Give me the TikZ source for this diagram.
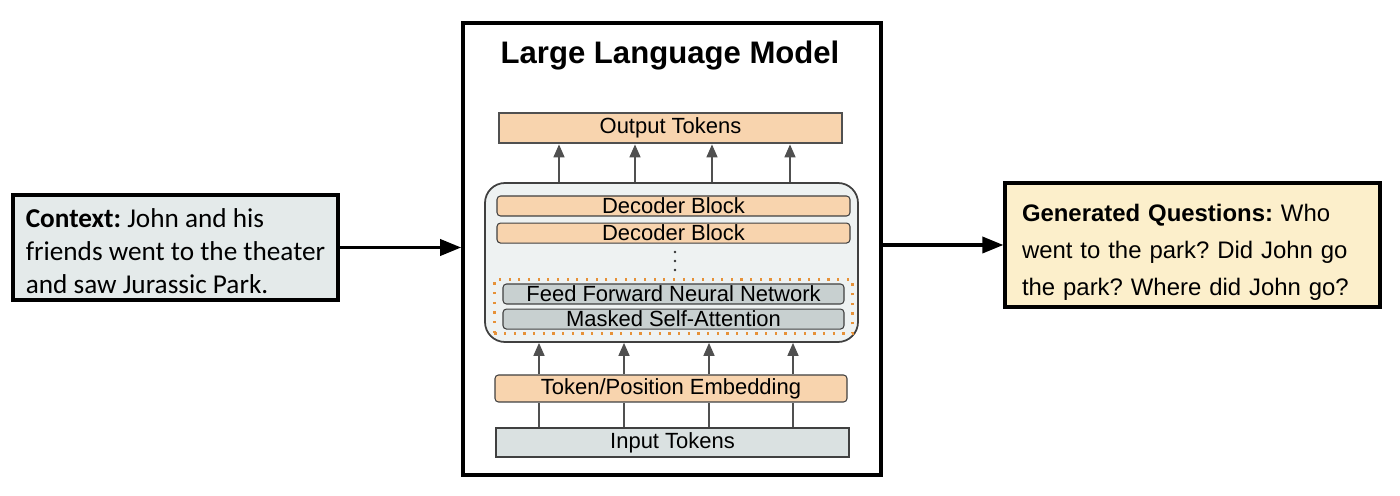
\documentclass[tikz,border=0pt]{standalone}
\usepackage{fontspec}
\setmainfont{Liberation Sans}
\newfontfamily\calibri{Carlito}
\usepackage[]{xcolor}
\usetikzlibrary{positioning,arrows.meta,fit}
\frenchspacing
\definecolor{ctxfill}{HTML}{E4EAEA}
\definecolor{qfill}{HTML}{FCEFCB}
\definecolor{peach}{HTML}{F8D4AE}
\definecolor{layergray}{HTML}{C8D0D0}
\definecolor{inputfill}{HTML}{DAE1E1}
\definecolor{stackfill}{HTML}{EEF2F2}
\definecolor{arrowgray}{HTML}{505050}
\definecolor{dotorange}{HTML}{E69138}
\tikzset{
  mainarrow/.style={line width=2pt,-{Triangle[length=0.42cm,width=0.32cm]}},
  tokarrow/.style={line width=0.9pt,arrowgray,-{Triangle[length=0.26cm,width=0.22cm]}},
  tokline/.style={line width=0.9pt,arrowgray},
  textbox/.style={draw=black,line width=1.8pt,align=left,inner ysep=0pt},
  block/.style={draw=black!75,line width=0.6pt,rounded corners=2pt,fill=peach,
    minimum width=7.06cm,minimum height=0.4cm,inner sep=0pt,
    font=\fontsize{12.5}{14}\selectfont},
  layer/.style={block,fill=layergray,minimum width=6.82cm},
  tokbox/.style={draw=arrowgray,line width=1.6pt,minimum width=6.86cm,minimum height=0.6cm,
    inner sep=0pt,font=\fontsize{12.5}{14}\selectfont}
}
\begin{document}
\begin{tikzpicture}
  \useasboundingbox (0,0) rectangle (28,9.9);
  % model frame and title
  \node[draw=black,line width=2pt,minimum width=8.36cm,minimum height=9.04cm] (llm) at (13.44,4.92) {};
  \node[font=\bfseries\fontsize{17.7}{21}\selectfont] (title) at (13.4,8.79) {Large Language Model};
  \node[tokbox,fill=peach] (outtok) at (13.41,7.34) {Output Tokens};
  % decoder stack
  \node[draw=black!75,line width=1pt,rounded corners=0.4cm,fill=stackfill,
    minimum width=7.46cm,minimum height=3.18cm] (stack) at (13.43,4.65) {};
  \node[block] (dec1) at (13.47,5.78) {Decoder Block};
  \node[block,below=0.12cm of dec1] (dec2) {Decoder Block};
  \foreach \y in {4.86,4.68,4.5}
    \fill[black!80] (13.5,\y) circle (0.028cm);
  \node[layer] (ffnn) at (13.47,4.02) {Feed Forward Neural Network};
  \node[layer,below=0.08cm of ffnn] (msa) {Masked Self-Attention};
  \node[draw=dotorange,line width=1.5pt,dash pattern=on 1.3pt off 4.2pt,
    inner xsep=0.16cm,inner ysep=0.08cm,fit=(ffnn)(msa)] (dotbox) {};
  % input side
  \node[block,minimum width=7.04cm,minimum height=0.54cm] (embed) at (13.42,2.13) {Token/Position Embedding};
  \node[tokbox,fill=inputfill,draw=black!75,minimum width=7.06cm,minimum height=0.58cm] (intok) at (13.45,1.05) {Input Tokens};
  \foreach \x in {11.18,12.7,14.24,15.8}
    \draw[tokarrow] (\x,0 |- stack.north) -- (\x,0 |- outtok.south);
  \foreach \x in {10.78,12.48,14.18,15.86} {
    \draw[tokarrow] (\x,0 |- embed.north) -- (\x,0 |- stack.south);
    \draw[tokline] (\x,0 |- intok.north) -- (\x,0 |- embed.south);
  }
  % context and questions
  \node[textbox,fill=ctxfill,minimum width=6.5cm,minimum height=2.1cm,
    font=\calibri\fontsize{15.5}{19}\selectfont] (context) at (3.51,4.95)
    {\rule{0pt}{15pt}\textbf{Context:} John and his\\friends went to the theater\\and saw Jurassic Park.};
  \node[textbox,fill=qfill,text width=6.82cm,inner xsep=0.34cm,minimum height=2.48cm,
    font=\fontsize{13.6}{21}\selectfont] (questions) at (23.85,5.0)
    {\rule{0pt}{18pt}\textbf{Generated Questions:} Who\\went to the park? Did John go\\the park? Where did John go?};
  \draw[mainarrow] (context.east) -- (llm.west |- context.east);
  \draw[mainarrow] (llm.east |- questions.west) -- (questions.west);
\end{tikzpicture}
\end{document}
